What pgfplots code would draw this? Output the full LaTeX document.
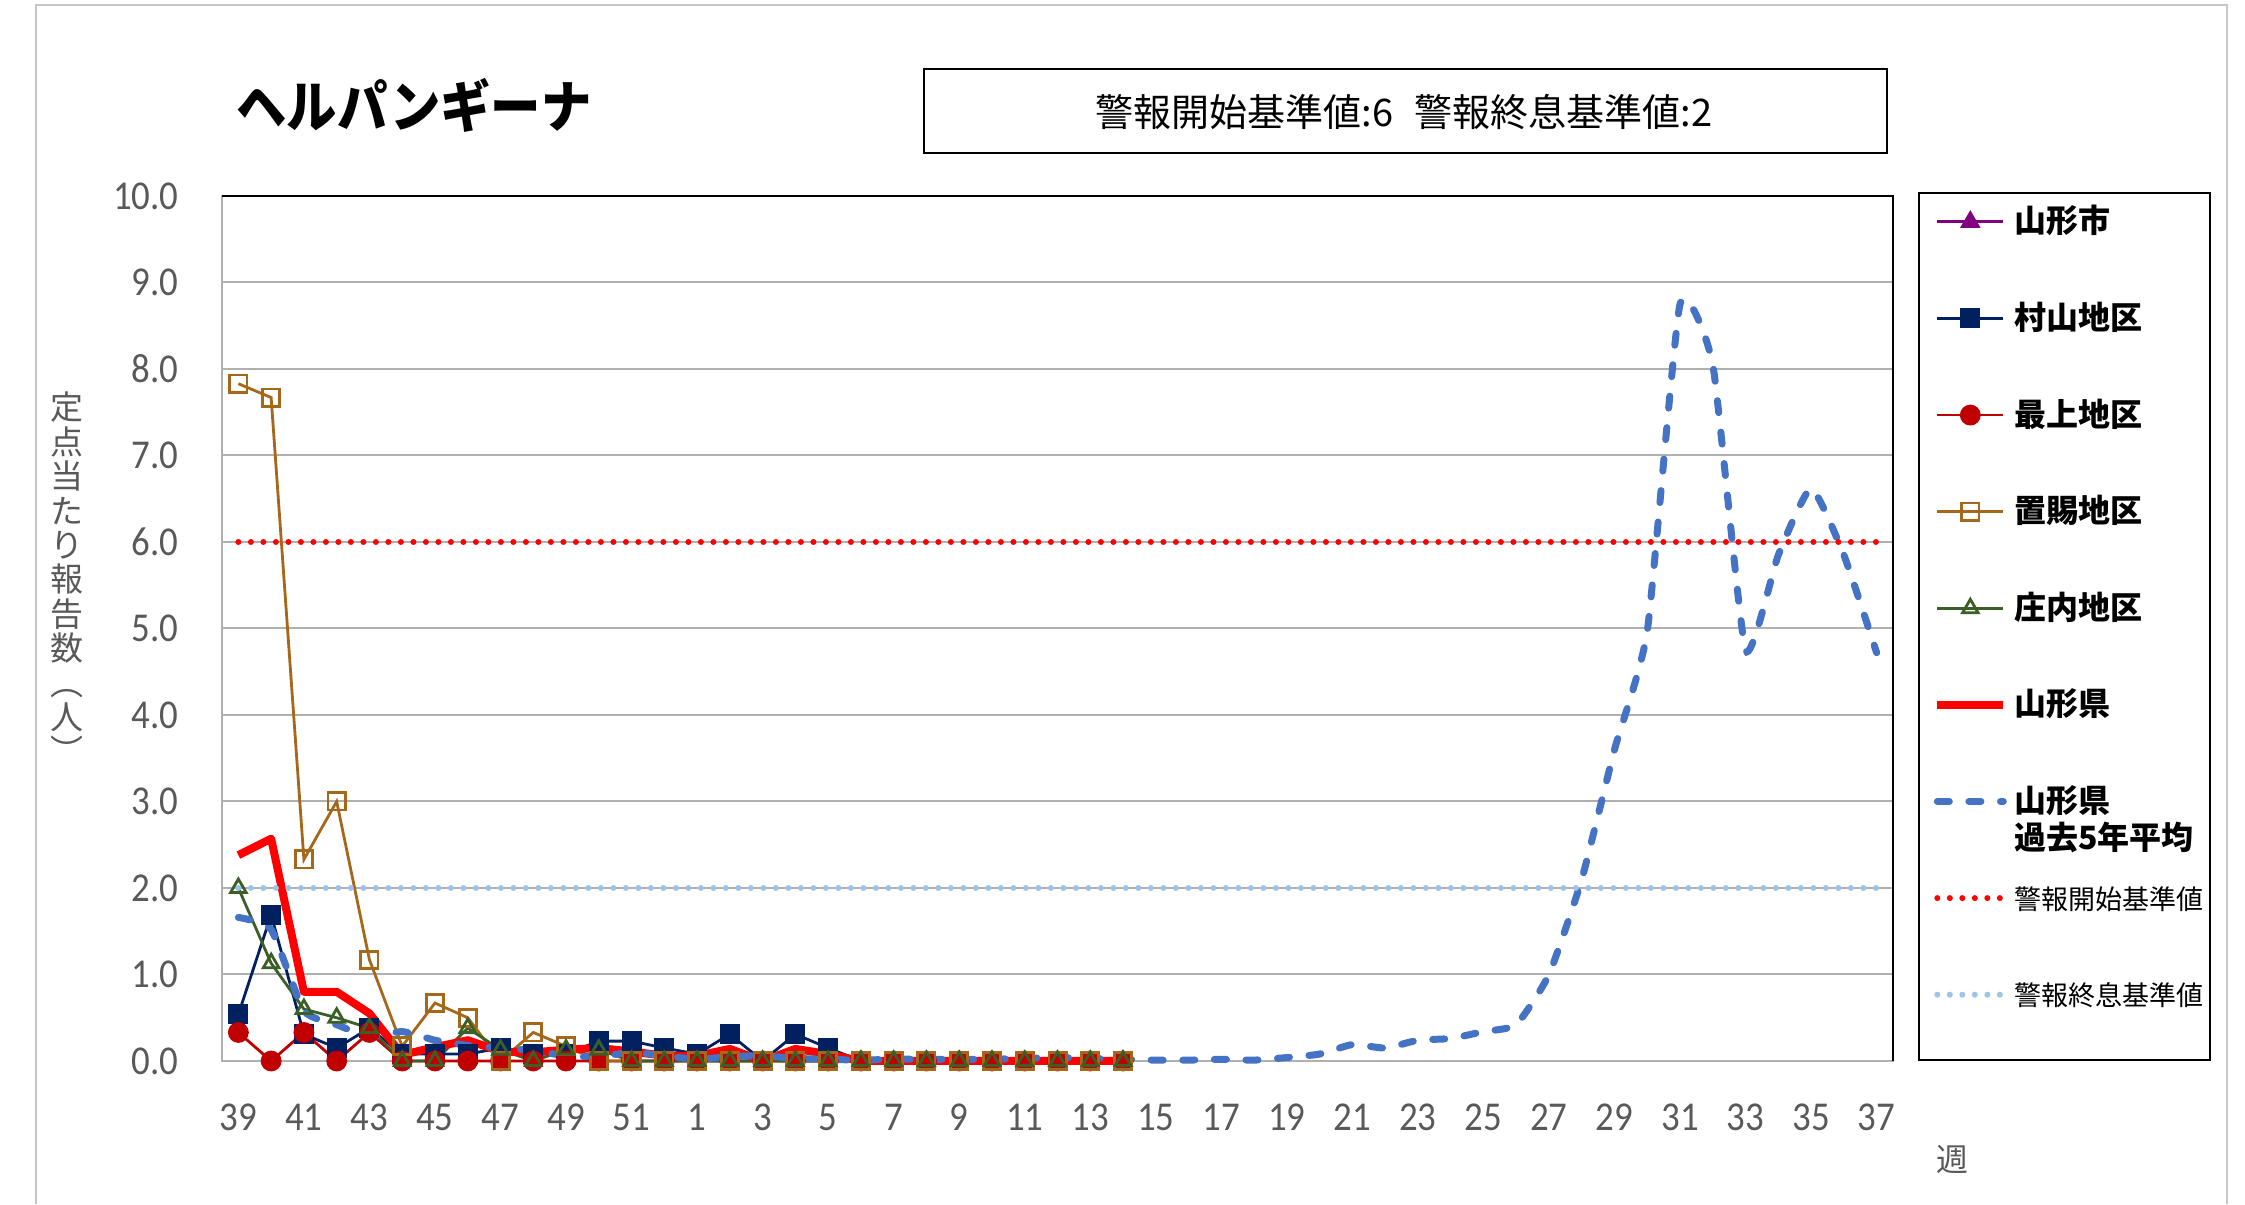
\documentclass[border=0pt]{standalone}
\usepackage{pgfplots}
\usepackage{pgfplotstable}
\pgfplotsset{compat=1.18}
\usepackage{fontspec}
\setmainfont{Carlito}
\newfontfamily\jp{Noto Sans CJK JP}
\newfontfamily\jpn{Noto Sans CJK JP}[FakeStretch=0.9]
\newfontfamily\num{Carlito}[FakeStretch=0.9]

\definecolor{cShi}{RGB}{128,0,128}
\definecolor{cMura}{HTML}{002060}
\definecolor{cMoga}{HTML}{C00000}
\definecolor{cOki}{RGB}{165,103,25}
\definecolor{cSho}{RGB}{60,95,40}
\definecolor{cKen}{HTML}{FF0000}
\definecolor{cAvg}{HTML}{4472C4}
\definecolor{cEnd}{HTML}{9DC3E6}
\definecolor{cGrid}{HTML}{B0B0B0}
\definecolor{cTick}{HTML}{595959}

% week index: 0 = week 39 ... 13 = week 52, 14 = week 1 ... 50 = week 37
\pgfplotstableread{
x mura moga oki sho ken
0  0.54 0.33 7.83 2.00 2.38
1  1.69 0    7.67 1.13 2.57
2  0.31 0.33 2.33 0.60 0.80
3  0.15 0    3.00 0.50 0.80
4  0.38 0.33 1.17 0.38 0.55
5  0.08 0    0.17 0    0.07
6  0.08 0    0.67 0    0.16
7  0.08 0    0.50 0.38 0.24
8  0.15 0    0    0.13 0.11
9  0.08 0    0.33 0    0.10
10 0.08 0    0.17 0.13 0.13
11 0.23 0    0    0.13 0.15
12 0.23 0    0    0    0.11
13 0.15 0    0    0    0.06
14 0.08 0    0    0    0.06
15 0.31 0    0    0    0.14
16 0    0    0    0    0
17 0.31 0    0    0    0.14
18 0.15 0    0    0    0.08
19 0    0    0    0    0
20 0    0    0    0    0
21 0    0    0    0    0
22 0    0    0    0    0
23 0    0    0    0    0
24 0    0    0    0    0
25 0    0    0    0    0
26 0    0    0    0    0
27 0    0    0    0    0
}\season

\pgfplotstableread{
x v
27 0
}\shi

\pgfplotstableread{
x v
0  1.66
1  1.52
2  0.58
3  0.42
4  0.28
5  0.34
6  0.24
7  0.18
8  0.15
9  0.12
10 0.06
11 0.05
12 0.10
13 0.06
14 0.02
15 0.05
16 0.06
17 0.03
18 0.02
19 0.01
20 0.02
21 0.02
22 0.02
23 0.02
24 0.03
25 0.04
26 0.03
27 0.02
28 0.01
29 0.01
30 0.02
31 0.01
32 0.04
33 0.08
34 0.19
35 0.15
36 0.24
37 0.26
38 0.34
39 0.42
40 1.00
41 2.10
42 3.60
43 4.97
44 8.75
45 8.05
46 4.75
47 5.85
48 6.62
49 5.85
50 4.72
}\avg

\begin{document}
\begin{tikzpicture}
\path (0,0) rectangle (1122.5pt,602pt);
\draw[gray!45, line width=1pt] (18pt,0) -- (18pt,599.5pt) -- (1113.5pt,599.5pt) -- (1113.5pt,0);

\node[anchor=west, inner sep=0pt, font=\jpn\bfseries\fontsize{28}{28}\selectfont] at (118pt,549.5pt) {ヘルパンギーナ};
\draw[black, line width=1.2pt] (462pt,525.5pt) rectangle (943.5pt,567.5pt);
\node[inner sep=0pt, font=\jp\fontsize{19}{19}\selectfont] at (702pt,546pt) {警報開始基準値:6\hspace{0.55em}警報終息基準値:2};

\node[align=center, inner sep=0pt, text=cTick, font=\jp\fontsize{16.5}{17.2}\selectfont] at (33.5pt,313pt)
  {定\\点\\当\\た\\り\\報\\告\\数\\︵\\人\\︶};
\node[inner sep=0pt, text=cTick, font=\jp\fontsize{16}{16}\selectfont] at (976pt,22pt) {週};

\draw[black, line width=1.2pt] (959.5pt,72pt) rectangle (1105pt,505.5pt);

\begin{axis}[
  at={(111pt,71.5pt)}, anchor=south west,
  scale only axis, width=835.5pt, height=432.5pt,
  xmin=-0.5, xmax=50.5, ymin=0, ymax=10,
  clip=false,
  xtick={0,2,...,50},
  xticklabels={39,41,43,45,47,49,51,1,3,5,7,9,11,13,15,17,19,21,23,25,27,29,31,33,35,37},
  ytick={0,1,...,10},
  /pgf/number format/assume math mode=true,
  y tick label style={/pgf/number format/.cd, fixed, fixed zerofill, precision=1, /tikz/.cd, anchor=east, inner sep=0pt, xshift=-21.5pt},
  x tick label style={anchor=center, inner sep=0pt, yshift=-28pt},
  tick label style={font=\num\fontsize{20.5}{20.5}\selectfont, text=cTick},
  major tick length=0pt,
  ymajorgrids, grid style={cGrid, line width=1pt},
  axis line style={cGrid, line width=1.3pt},
  legend image code/.code={\draw[mark repeat=2, mark phase=2, #1] plot coordinates {(0pt,5.5pt) (16.5pt,5.5pt) (33pt,5.5pt)};},
  legend style={draw=none, fill=none, inner sep=0pt,
    at={(axis description cs:1.0239,0.9925)}, anchor=north west,
    row sep=30.3pt, column sep=2.5pt,
    font=\jp\fontsize{16}{16}\selectfont,
    nodes={anchor=base west, inner sep=1pt, text height=14pt, text depth=2pt}},
  legend cell align=left,
]
\addplot[cShi, line width=1.4pt, mark=triangle*, mark size=4.5pt] table[x=x, y=v] {\shi};
\addlegendentry{\textbf{山形市}}
\addplot[cMura, line width=1.4pt, mark=square*, mark size=4.3pt] table[x=x, y=mura] {\season};
\addlegendentry{\textbf{村山地区}}
\addplot[cMoga, line width=1.4pt, mark=*, mark size=4.5pt] table[x=x, y=moga] {\season};
\addlegendentry{\textbf{最上地区}}
\addplot[cOki, line width=1.4pt, mark=square, mark size=4.3pt] table[x=x, y=oki] {\season};
\addlegendentry{\textbf{置賜地区}}
\addplot[cSho, line width=1.4pt, mark=triangle, mark size=4.5pt] table[x=x, y=sho] {\season};
\addlegendentry{\textbf{庄内地区}}
\addplot[cKen, line width=4pt, line join=round, no markers] table[x=x, y=ken] {\season};
\addlegendentry{\textbf{山形県}}
\addplot[cAvg, line width=3.5pt, line cap=round, dash pattern=on 6pt off 9.8pt, smooth, tension=0.3, no markers] table[x=x, y=v] {\avg};
\addlegendentry{\makebox[0pt][l]{\raisebox{-18.5pt}[0pt][0pt]{\textbf{過去5年平均}}}\textbf{山形県}}
\addplot[red, line width=3pt, line cap=round, dash pattern=on 0pt off 6.25pt, no markers] coordinates {(0,6) (50,6)};
\addlegendentry{{\fontsize{13.5}{13.5}\selectfont 警報開始基準値}}
\addplot[cEnd, line width=3pt, line cap=round, dash pattern=on 0pt off 6.25pt, no markers] coordinates {(0,2) (50,2)};
\addlegendentry{{\fontsize{13.5}{13.5}\selectfont 警報終息基準値}}
\draw[black, line width=1.2pt] (rel axis cs:0,1) -- (rel axis cs:1,1) -- (rel axis cs:1,0);
\end{axis}
\end{tikzpicture}
\end{document}
